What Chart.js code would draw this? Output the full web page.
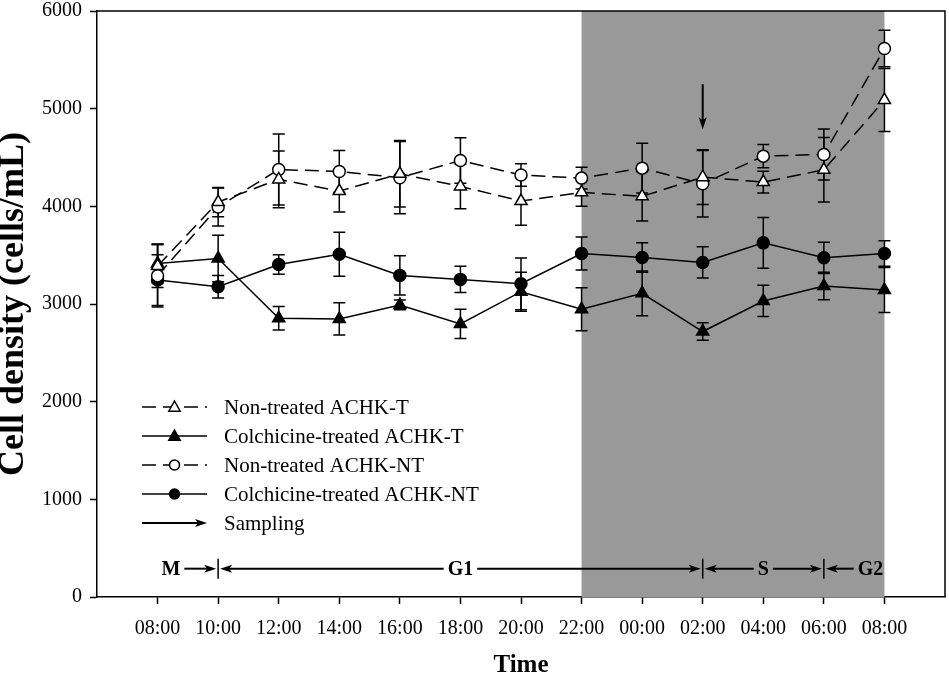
<!DOCTYPE html>
<html>
<head>
<meta charset="utf-8">
<script src="https://cdn.jsdelivr.net/npm/chart.js@4.4.0/dist/chart.umd.min.js"></script>
<style>
  html, body { margin: 0; padding: 0; background: #fff; }
</style>
</head>
<body>
<canvas id="myChart" width="949" height="681"></canvas>
<script>
// time points (x axis)
const timeLabels = ['08:00', '10:00', '12:00', '14:00', '16:00', '18:00', '20:00',
                    '22:00', '00:00', '02:00', '04:00', '06:00', '08:00'];

// cell density, cells/mL
const nonTreatedT   = [3390, 4044, 4276, 4156, 4333, 4204, 4054, 4143, 4102, 4299, 4248, 4374, 5088];
const nonTreatedTEr = [220, 150, 290, 214, 340, 228, 248, 143, 252, 280, 112, 330, 323];
const colchT        = [3415, 3466, 2854, 2847, 2990, 2796, 3126, 2946, 3109, 2718, 3031, 3184, 3143];
const colchTEr      = [200, 238, 120, 165, 50, 150, 200, 220, 230, 90, 160, 140, 230];
const nonTreatedNT  = [3289, 3993, 4377, 4357, 4293, 4469, 4320, 4289, 4391, 4231, 4514, 4531, 5616];
const nonTreatedNTEr= [320, 194, 364, 214, 370, 232, 115, 112, 255, 340, 119, 262, 187];
const colchNT       = [3245, 3177, 3405, 3510, 3293, 3252, 3207, 3517, 3476, 3425, 3626, 3473, 3517];
const colchNTEr     = [260, 116, 100, 225, 200, 135, 265, 170, 150, 160, 260, 160, 130];

const seriesNames = ['Non-treated ACHK-T', 'Colchicine-treated ACHK-T',
                     'Non-treated ACHK-NT', 'Colchicine-treated ACHK-NT'];
const samplingName = 'Sampling';

// dark period (x index range)
const shadeFrom = 7, shadeTo = 12;
// sampling arrow
const samplingAt = 9, samplingTop = 5250, samplingTip = 4790;
// cell cycle phases
const phaseLabels = ['M', 'G1', 'S', 'G2'];
const phaseBounds = [0, 1, 9, 11, 12];
const phaseLabelAt = [0.22, 5, 10, 11.77];
const phaseLevel = 290;

const serif = "'Liberation Serif', 'Times New Roman', serif";

function pts(arr) {
    return arr.map((v, i) => ({x: i, y: v}));
}

function drawMarker(ctx, style, filled, x, y, r) {
    ctx.save();
    ctx.beginPath();
    if (style === 'triangle') {
        ctx.moveTo(x, y - r);
        ctx.lineTo(x + r * 0.95, y + r * 0.7);
        ctx.lineTo(x - r * 0.95, y + r * 0.7);
        ctx.closePath();
    } else {
        ctx.arc(x, y, r, 0, Math.PI * 2);
    }
    ctx.fillStyle = filled ? '#000' : '#fff';
    ctx.fill();
    ctx.lineWidth = 1.5;
    ctx.strokeStyle = '#000';
    ctx.stroke();
    ctx.restore();
}

function arrowHead(ctx, x, y, dir) {
    // dir: 1 right, -1 left, 2 down
    ctx.beginPath();
    if (dir === 2) {
        ctx.moveTo(x, y);
        ctx.lineTo(x - 4, y - 12);
        ctx.lineTo(x, y - 9);
        ctx.lineTo(x + 4, y - 12);
    } else {
        ctx.moveTo(x, y);
        ctx.lineTo(x - dir * 12, y - 4);
        ctx.lineTo(x - dir * 9, y);
        ctx.lineTo(x - dir * 12, y + 4);
    }
    ctx.closePath();
    ctx.fill();
}

const errorSets = [nonTreatedTEr, colchTEr, nonTreatedNTEr, colchNTEr];

const extrasPlugin = {
    id: 'extras',
    beforeDatasetsDraw(chart) {
        const {ctx, chartArea, scales: {x, y}} = chart;
        // shaded night period
        ctx.save();
        ctx.fillStyle = '#999999';
        const x1 = x.getPixelForValue(shadeFrom), x2 = x.getPixelForValue(shadeTo);
        ctx.fillRect(x1, chartArea.top, x2 - x1, chartArea.bottom - chartArea.top);

        // error bars
        ctx.strokeStyle = '#000';
        ctx.lineWidth = 1.5;
        chart.data.datasets.forEach((ds, d) => {
            const err = errorSets[d];
            ds.data.forEach((p, i) => {
                const px = x.getPixelForValue(p.x);
                const top = y.getPixelForValue(p.y + err[i]);
                const bot = y.getPixelForValue(p.y - err[i]);
                ctx.beginPath();
                ctx.moveTo(px, top); ctx.lineTo(px, bot);
                ctx.moveTo(px - 6, top); ctx.lineTo(px + 6, top);
                ctx.moveTo(px - 6, bot); ctx.lineTo(px + 6, bot);
                ctx.stroke();
            });
        });
        ctx.restore();
    },
    afterDraw(chart) {
        const {ctx, chartArea, scales: {x, y}} = chart;
        ctx.save();
        ctx.strokeStyle = '#000';
        ctx.fillStyle = '#000';

        // top and right frame
        ctx.lineWidth = 1.5;
        ctx.beginPath();
        ctx.moveTo(chartArea.left, chartArea.top);
        ctx.lineTo(chartArea.right, chartArea.top);
        ctx.lineTo(chartArea.right, chartArea.bottom);
        ctx.stroke();

        // sampling arrow
        const sx = x.getPixelForValue(samplingAt);
        const sy1 = y.getPixelForValue(samplingTop), sy2 = y.getPixelForValue(samplingTip);
        ctx.lineWidth = 2;
        ctx.beginPath();
        ctx.moveTo(sx, sy1); ctx.lineTo(sx, sy2 - 6);
        ctx.stroke();
        arrowHead(ctx, sx, sy2, 2);

        // phases
        const py = y.getPixelForValue(phaseLevel);
        ctx.font = 'bold 20px ' + serif;
        ctx.textAlign = 'center';
        ctx.textBaseline = 'middle';
        phaseLabels.forEach((lab, k) => {
            const xa = x.getPixelForValue(phaseBounds[k]);
            const xb = x.getPixelForValue(phaseBounds[k + 1]);
            const xc = x.getPixelForValue(phaseLabelAt[k]);
            const w = ctx.measureText(lab).width;
            ctx.fillText(lab, xc, py + 1);
            const L = xc - w / 2 - 4, R = xc + w / 2 + 4;
            ctx.lineWidth = 2;
            if (L - xa > 12) {
                ctx.beginPath(); ctx.moveTo(L, py); ctx.lineTo(xa + 8, py); ctx.stroke();
                arrowHead(ctx, xa + 2, py, -1);
            }
            if (xb - R > 12) {
                ctx.beginPath(); ctx.moveTo(R, py); ctx.lineTo(xb - 8, py); ctx.stroke();
                arrowHead(ctx, xb - 2, py, 1);
            }
            if (k > 0) {
                ctx.lineWidth = 1.5;
                ctx.beginPath(); ctx.moveTo(xa, py - 10); ctx.lineTo(xa, py + 10); ctx.stroke();
            }
        });

        // legend
        const styles = [['triangle', false, true], ['triangle', true, false],
                        ['circle', false, true], ['circle', true, false]];
        const lx1 = 142, lx2 = 207, tx = 224;
        let ly = 407;
        ctx.font = '21px ' + serif;
        ctx.textAlign = 'left';
        seriesNames.forEach((name, i) => {
            const [st, filled, dashed] = styles[i];
            ctx.lineWidth = 1.5;
            ctx.setLineDash(dashed ? [14, 7] : []);
            ctx.beginPath(); ctx.moveTo(lx1, ly); ctx.lineTo(lx2, ly); ctx.stroke();
            ctx.setLineDash([]);
            drawMarker(ctx, st, filled, (lx1 + lx2) / 2, ly, st === 'triangle' ? 6 : 5);
            ctx.fillStyle = '#000';
            ctx.fillText(name, tx, ly + 1);
            ly += 29;
        });
        ctx.lineWidth = 2;
        ctx.beginPath(); ctx.moveTo(lx1, ly); ctx.lineTo(lx2 - 6, ly); ctx.stroke();
        arrowHead(ctx, lx2, ly, 1);
        ctx.fillText(samplingName, tx, ly + 1);
        ctx.restore();
    }
};

const lineStyle = (data, name, style, filled, dashed) => ({
    label: name,
    data: pts(data),
    borderColor: '#000',
    borderWidth: 1.5,
    borderDash: dashed ? [14, 7] : [],
    pointStyle: style,
    pointRadius: style === 'triangle' ? 7 : 6,
    pointBorderWidth: 1.5,
    pointBorderColor: '#000',
    pointBackgroundColor: filled ? '#000' : '#fff',
    fill: false,
    tension: 0
});

const ctx = document.getElementById('myChart').getContext('2d');
const chart = new Chart(ctx, {
    type: 'line',
    data: {
        datasets: [
            lineStyle(nonTreatedT, seriesNames[0], 'triangle', false, true),
            lineStyle(colchT, seriesNames[1], 'triangle', true, false),
            lineStyle(nonTreatedNT, seriesNames[2], 'circle', false, true),
            lineStyle(colchNT, seriesNames[3], 'circle', true, false)
        ]
    },
    options: {
        responsive: false,
        animation: false,
        layout: {autoPadding: false, padding: {top: 11, right: 4, left: 0, bottom: 0}},
        plugins: {legend: {display: false}, tooltip: {enabled: false}},
        scales: {
            x: {
                type: 'linear',
                min: -1,
                max: 13,
                afterFit: (s) => { s.height = 84; s.paddingLeft = 0; s.paddingRight = 0; },
                ticks: {
                    stepSize: 1,
                    autoSkip: false,
                    maxRotation: 0,
                    padding: 13,
                    color: '#000',
                    font: {family: serif, size: 20},
                    callback: (v) => timeLabels[v] ?? ''
                },
                grid: {
                    drawOnChartArea: false,
                    tickLength: 7,
                    tickWidth: 1.5,
                    color: (c) => (c.tick && (c.tick.value < 0 || c.tick.value > 12)) ? 'rgba(0,0,0,0)' : '#000'
                },
                border: {color: '#000', width: 1.5},
                title: {
                    display: true,
                    text: 'Time',
                    color: '#000',
                    padding: 0,
                    font: {family: serif, size: 25, weight: 'bold'}
                }
            },
            y: {
                min: 0,
                max: 6000,
                afterFit: (s) => { s.width = 97; s.paddingTop = 0; s.paddingBottom = 0; },
                ticks: {
                    stepSize: 1000,
                    padding: 8,
                    color: '#000',
                    font: {family: serif, size: 20},
                    callback: (v) => String(v)
                },
                grid: {drawOnChartArea: false, tickLength: 7, tickWidth: 1.5, color: '#000'},
                border: {color: '#000', width: 1.5},
                title: {
                    display: true,
                    text: 'Cell density (cells/mL)',
                    color: '#000',
                    padding: {top: -4, bottom: 0},
                    font: {family: serif, size: 36, weight: 'bold', lineHeight: 1}
                }
            }
        }
    },
    plugins: [extrasPlugin]
});
</script>
</body>
</html>
